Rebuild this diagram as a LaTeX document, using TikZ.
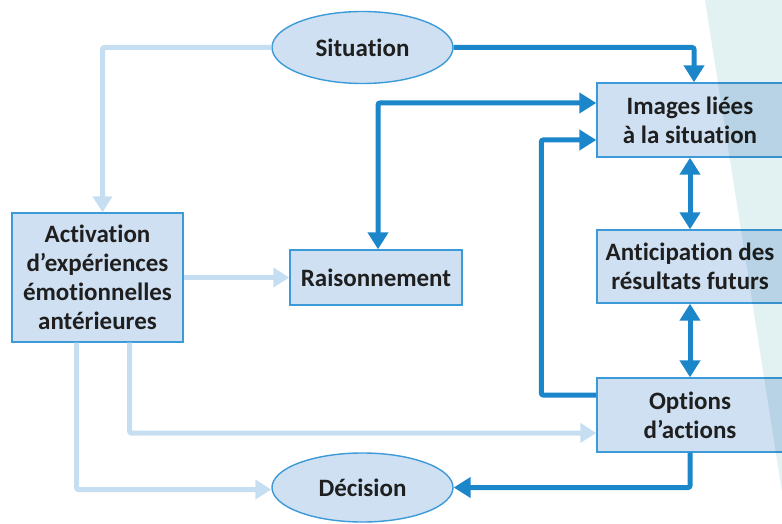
\documentclass[tikz,border=0pt]{standalone}
\usepackage{fontspec}
\setmainfont[Ligatures={NoCommon,NoContextual}]{Carlito}
\usepackage{tikz}
\usetikzlibrary{positioning, arrows.meta, shapes.geometric, calc}
\definecolor{darkline}{RGB}{27,134,201}
\definecolor{lightline}{RGB}{198,222,242}
\definecolor{boxfill}{RGB}{207,224,242}
\definecolor{boxdraw}{RGB}{61,154,216}
\definecolor{bgteal}{RGB}{226,241,242}

\begin{document}
\begin{tikzpicture}[
  x=1pt, y=-1pt,
  every node/.style={font=\bfseries\fontsize{25}{29}\selectfont, text=black!88, align=center},
  stepbox/.style={rectangle, draw=boxdraw, fill=boxfill, line width=1.4pt, inner sep=0pt},
  endbox/.style={ellipse, draw=boxdraw, fill=boxfill, line width=1.4pt, inner sep=0pt},
  strong/.style={draw=darkline, line width=5pt, rounded corners=2pt, -{Triangle[length=17pt, width=20pt]}},
  strongboth/.style={strong, {Triangle[length=17pt, width=20pt]}-{Triangle[length=17pt, width=20pt]}},
  weak/.style={draw=lightline, line width=5pt, rounded corners=2pt, -{Triangle[length=16pt, width=19pt]}}
]
\useasboundingbox (0,0) rectangle (782,524);
\clip (0,0) rectangle (782,524);

% nodes
\node[endbox, minimum width=181, minimum height=72] (sit) at (362.5,47.5) {Situation};
\node[stepbox, minimum width=171, minimum height=129] (act) at (97.5,277.5)
  {Activation\\d'expériences\\émotionnelles\\antérieures};
\node[stepbox, minimum width=172, minimum height=55] (rais) at (376,277.5) {Raisonnement};
\node[endbox, minimum width=181, minimum height=69] (dec) at (362.5,487.5) {Décision};
\node[stepbox, minimum width=186, minimum height=74] (img) at (690,120) {Images liées\\à la situation};
\node[stepbox, minimum width=186, minimum height=73] (ant) at (690,266.5) {Anticipation des\\résultats futurs};
\node[stepbox, minimum width=186, minimum height=74] (opt) at (690,415) {Options\\d'actions};

% light connectors
\draw[weak] (sit.west) -| ([xshift=5pt]act.north);
\draw[weak] (act.east) -- (rais.west);
\draw[weak] ([xshift=32pt]act.south) |- ($(opt.west)+(0,18)$);
\draw[weak] ([xshift=-21pt]act.south) |- ($(dec.west)+(0,2)$);

% dark connectors
\draw[strong] (sit.east) -| ([xshift=4pt]img.north);
\draw[strongboth] ($(img.west)+(0,-17)$) -| ([xshift=2pt]rais.north);
\draw[strong] ($(opt.west)+(0,-20)$) -- ++(-55,0) |- ($(img.west)+(0,20)$);
\draw[strongboth] (img.south) -- (ant.north);
\draw[strongboth] (ant.south) -- (opt.north);
\draw[strong] (opt.south) |- (dec.east);

% background band
\begin{scope}[blend mode=multiply]
  \fill[bgteal] (705,0) -- (782,0) -- (782,524) -- (787,524) -- cycle;
\end{scope}
\end{tikzpicture}
\end{document}
